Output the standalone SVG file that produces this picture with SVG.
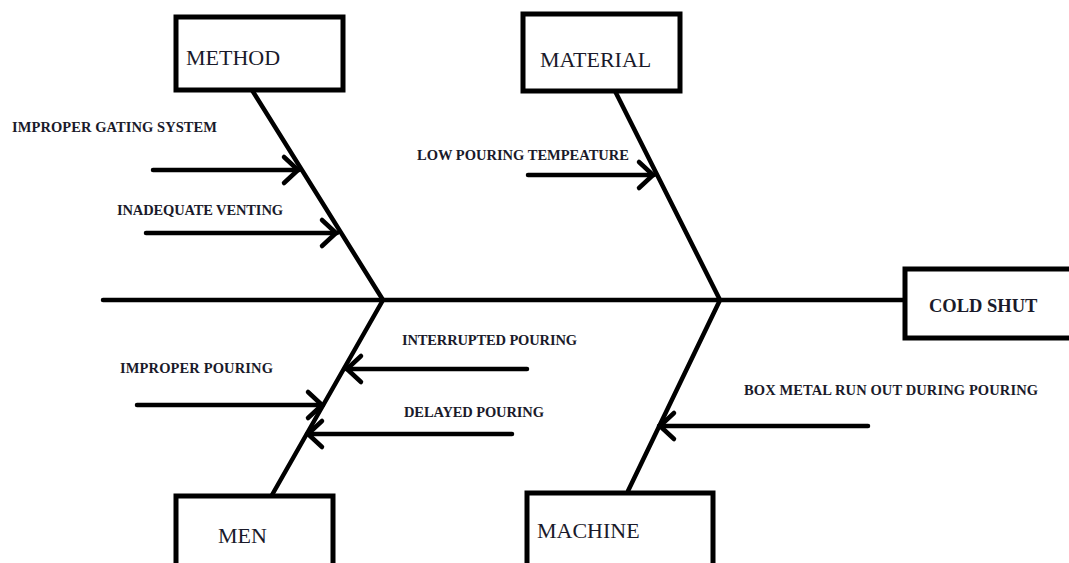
<svg xmlns="http://www.w3.org/2000/svg" width="1069" height="563" viewBox="0 0 1069 563">
<style>
.box{fill:#fff;stroke:#000;stroke-width:5}
.ln{stroke:#000;stroke-width:4.5;stroke-linecap:round;fill:none}
.cat{font-family:"Liberation Serif",serif;font-size:22px;fill:#1a1a2a}
.lab{font-family:"Liberation Serif",serif;font-size:14.5px;font-weight:bold;fill:#1a1a2a}
.eff{font-family:"Liberation Serif",serif;font-size:18.5px;font-weight:bold;fill:#1a1a2a}
</style>
<defs>
<marker id="ah" markerUnits="userSpaceOnUse" markerWidth="30" markerHeight="36" refX="1" refY="15" orient="auto" viewBox="-20 0 30 30">
<path d="M-14,2 L0,15 L-14,28" fill="none" stroke="#000" stroke-width="4.5" stroke-linecap="round" stroke-linejoin="round"/>
</marker>
</defs>
<g id="connectors">
<line class="ln" x1="103" y1="300" x2="905" y2="300"/>
<line class="ln" x1="252" y1="90" x2="383" y2="300"/>
<line class="ln" x1="615" y1="91" x2="720" y2="300"/>
<line class="ln" x1="383" y1="300" x2="272" y2="495"/>
<line class="ln" x1="720" y1="300" x2="628" y2="491"/>
<line class="ln" x1="153" y1="170" x2="299" y2="170" marker-end="url(#ah)"/>
<line class="ln" x1="146" y1="233" x2="337" y2="233" marker-end="url(#ah)"/>
<line class="ln" x1="528" y1="175" x2="654" y2="175" marker-end="url(#ah)"/>
<line class="ln" x1="137" y1="405" x2="323" y2="405" marker-end="url(#ah)"/>
<line class="ln" x1="527" y1="369" x2="346" y2="369" marker-end="url(#ah)"/>
<line class="ln" x1="512" y1="434" x2="307" y2="434" marker-end="url(#ah)"/>
<line class="ln" x1="868" y1="426" x2="659" y2="426" marker-end="url(#ah)"/>
</g>
<g id="method"><rect class="box" x="176" y="17" width="167" height="73"/><text class="cat" x="186" y="65">METHOD</text></g>
<g id="material"><rect class="box" x="523" y="14" width="157" height="77"/><text class="cat" x="540" y="67">MATERIAL</text></g>
<g id="men"><rect class="box" x="176" y="496" width="157" height="75"/><text class="cat" x="218" y="543">MEN</text></g>
<g id="machine"><rect class="box" x="527" y="493" width="186" height="78"/><text class="cat" x="537" y="538">MACHINE</text></g>
<g id="cold-shut"><rect class="box" x="905" y="269" width="170" height="69"/><text class="eff" x="929" y="312">COLD SHUT</text></g>
<g id="labels">
<text class="lab" x="12" y="132" textLength="205">IMPROPER GATING SYSTEM</text>
<text class="lab" x="117" y="215" textLength="166">INADEQUATE VENTING</text>
<text class="lab" x="417" y="160" textLength="212">LOW POURING TEMPEATURE</text>
<text class="lab" x="120" y="373" textLength="153">IMPROPER POURING</text>
<text class="lab" x="402" y="345" textLength="175">INTERRUPTED POURING</text>
<text class="lab" x="404" y="417" textLength="140">DELAYED POURING</text>
<text class="lab" x="744" y="395" textLength="294">BOX METAL RUN OUT DURING POURING</text>
</g>
</svg>
